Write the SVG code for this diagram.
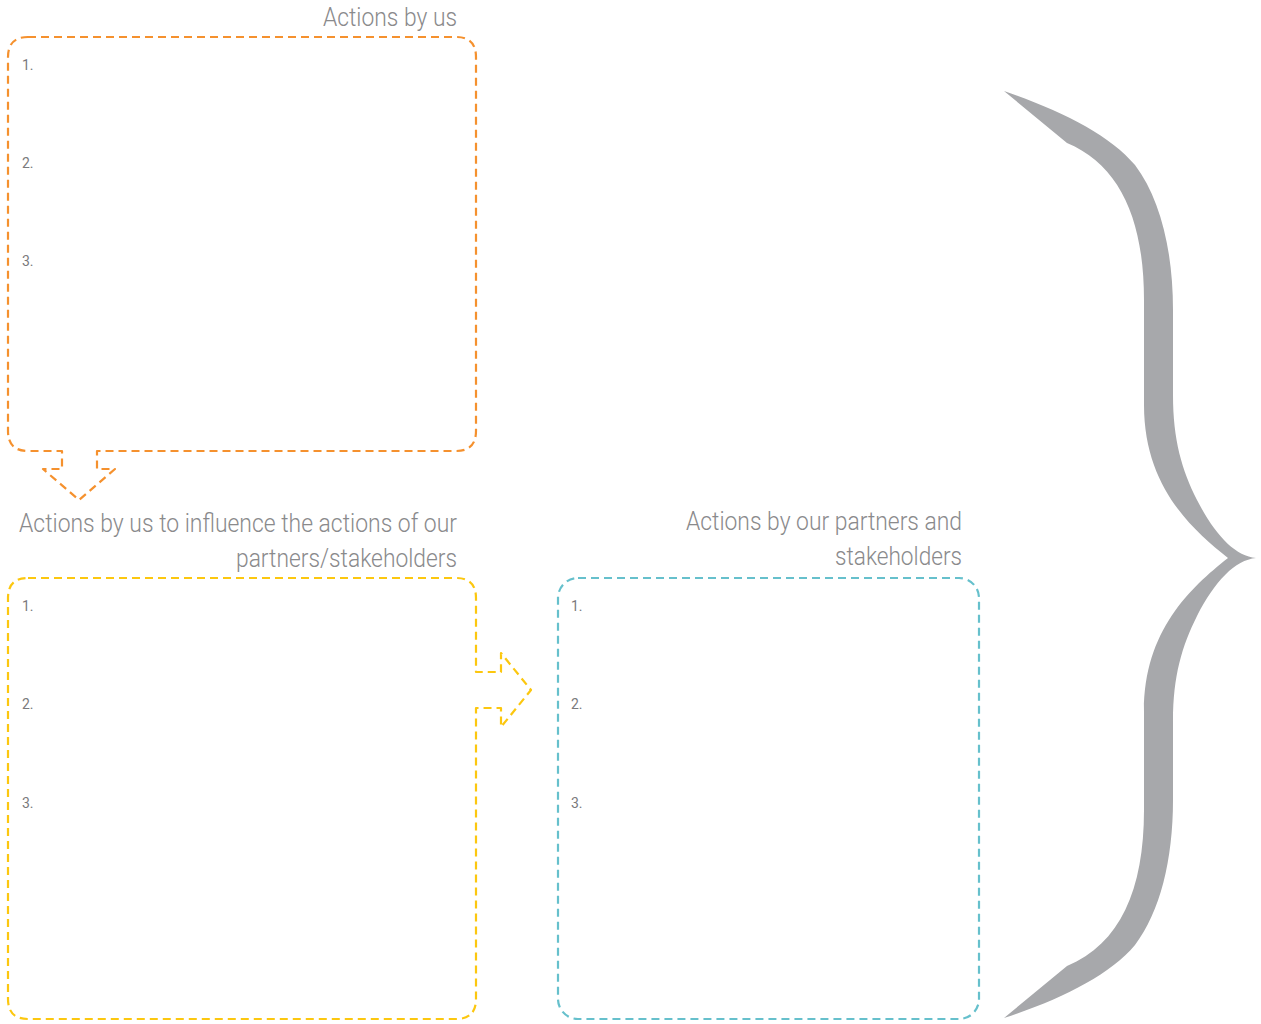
<svg xmlns="http://www.w3.org/2000/svg" width="1261" height="1024" viewBox="0 0 1261 1024">
<style>
.box{fill:none;stroke-width:2.2;stroke-dasharray:8 5;stroke-linejoin:round}
.o{stroke:#f5912e}
.y{stroke:#fcc70f}
.t{stroke:#66c0cc}
.title{font-family:Roboto,"Liberation Sans",sans-serif;font-weight:300;font-size:26px;fill:#8a8a8c;text-anchor:end}
.num{font-family:Roboto,"Liberation Sans",sans-serif;font-weight:400;font-size:14px;fill:#7a7a7c}
</style>
<rect width="1261" height="1024" fill="#fff"/>
<g id="node-actions-by-us">
<path class="box o" d="M28,37 H456 Q476,37 476,57 V431 Q476,451 456,451 H97 V469 H115 L79,500 L43,469 H62 V451 H28 Q8,451 8,431 V57 Q8,37 28,37 Z"/>
<text class="title" x="457" y="26" textLength="134" lengthAdjust="spacingAndGlyphs">Actions by us</text>
<text class="num" x="22" y="70">1.</text>
<text class="num" x="22" y="168">2.</text>
<text class="num" x="22" y="266">3.</text>
</g>
<g id="node-influence">
<path class="box y" d="M28,578 H456 Q476,578 476,598 V672 H501 V653 L531,690 L501,727 V708 H476 V999 Q476,1019 456,1019 H28 Q8,1019 8,999 V598 Q8,578 28,578 Z"/>
<text class="title" x="457" y="532" textLength="438" lengthAdjust="spacingAndGlyphs">Actions by us to influence the actions of our</text>
<text class="title" x="457" y="567" textLength="221" lengthAdjust="spacingAndGlyphs">partners/stakeholders</text>
<text class="num" x="22" y="611">1.</text>
<text class="num" x="22" y="709">2.</text>
<text class="num" x="22" y="808">3.</text>
</g>
<g id="node-partners">
<rect class="box t" x="558" y="578" width="421" height="441" rx="20" ry="20"/>
<text class="title" x="962" y="530" textLength="276" lengthAdjust="spacingAndGlyphs">Actions by our partners and</text>
<text class="title" x="962" y="565" textLength="127" lengthAdjust="spacingAndGlyphs">stakeholders</text>
<text class="num" x="571" y="611">1.</text>
<text class="num" x="571" y="709">2.</text>
<text class="num" x="571" y="808">3.</text>
</g>
<g id="connectors">
<path id="brace" fill="#a7a8ab" d="M1004,91 C1060,110 1110,135 1135,165 C1160,198 1173,250 1173,310 L1173,395 C1173,440 1182,470 1197,500 C1215,535 1235,556 1256,558 C1235,560 1215,581 1197,616 C1182,646 1173,676 1173,721 L1173,800 C1173,860 1160,912 1135,945 C1110,975 1060,1000 1004,1018 L1067,966 C1120,944 1144,890 1144,810 L1144,711 C1144,631 1190,588 1228,558 C1190,528 1144,485 1144,405 L1144,300 C1144,220 1120,165 1067,143 Z"/>
</g>
</svg>
